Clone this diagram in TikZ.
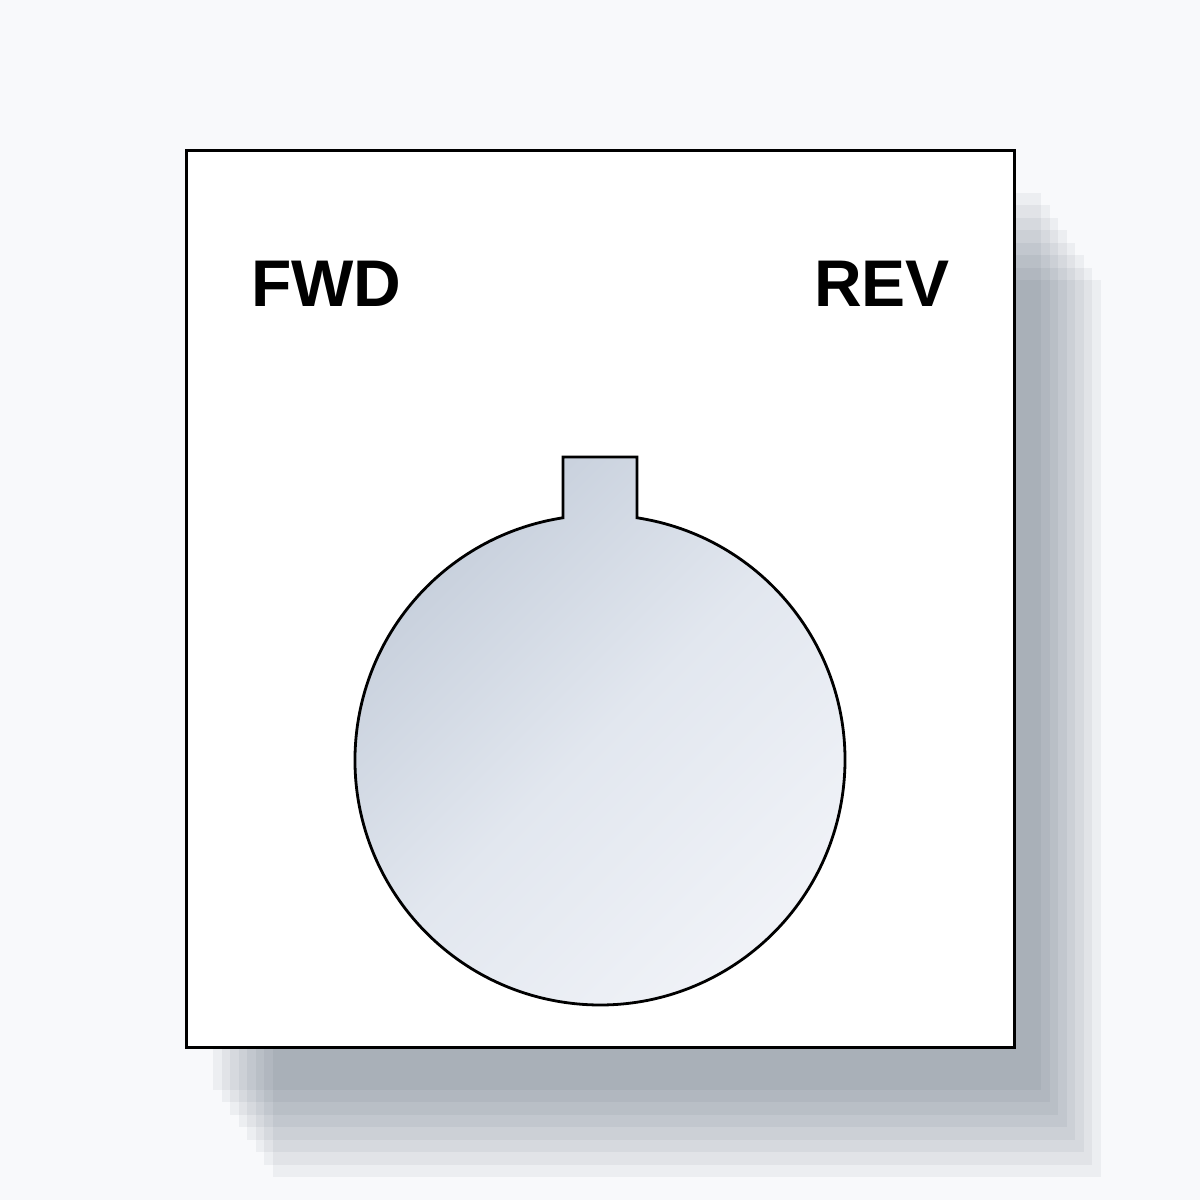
\documentclass[tikz,border=0pt]{standalone}
\usepackage{fontspec}
\setmainfont{Liberation Sans}
\definecolor{bgc}{HTML}{F8F9FB}
\definecolor{shadc}{HTML}{324056}
\definecolor{holeA}{HTML}{C4CDDA}
\definecolor{holeM}{HTML}{E2E7EF}
\definecolor{holeB}{HTML}{F1F3F8}
\tikzset{
  card/.style={fill=white, draw=black, line width=3pt},
  shadowlayer/.style={fill=shadc, fill opacity=0.058},
  keyhole/.style={draw=black, line width=2.8pt, top color=holeA, bottom color=holeB, middle color=holeM, shading angle=45},
  label/.style={font=\fontsize{66}{78}\selectfont\bfseries, text=black, anchor=base, inner sep=0pt}
}
\begin{document}
\begin{tikzpicture}[x=1pt,y=1pt]
\fill[bgc] (0,0) rectangle (1200,1200);
\useasboundingbox (0,0) rectangle (1200,1200);
% layered shadow
\foreach \k in {0,...,7}{
  \pgfmathsetmacro{\sx}{27+8.57*\k}
  \pgfmathsetmacro{\sy}{42+12.43*\k}
  \fill[shadowlayer] (186+\sx,152-\sy) rectangle (1014+\sx,1049-\sy);
}
% card
\draw[card] (186,152) rectangle (1014,1049);
% keyhole opening
\draw[keyhole] (637,743) -- (637,682.2)
  arc[start angle=81.31, end angle=-261.31, radius=245]
  -- (563,743) -- cycle;
% labels
\node[label] (fwd) at (326.5,893) {FWD};
\node[label] (rev) at (882,893) {REV};
\end{tikzpicture}
\end{document}
